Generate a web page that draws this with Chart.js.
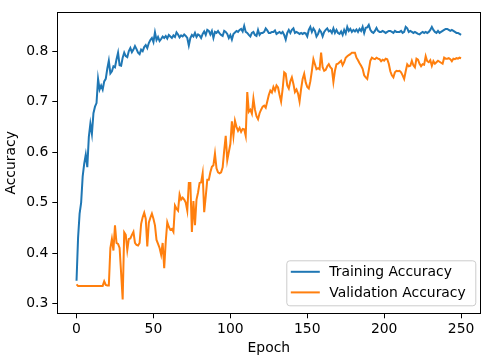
<!DOCTYPE html>
<html>
<head>
<meta charset="utf-8">
<script src="https://cdn.jsdelivr.net/npm/chart.js@4/dist/chart.umd.min.js"></script>
<style>
  html, body { margin: 0; padding: 0; background: #fff; }
  #wrap { width: 486px; height: 357px; }
</style>
</head>
<body>
<div id="wrap"><canvas id="accChart" width="486" height="357"></canvas></div>
<script>
// accuracy per epoch (epoch 0..250)
const trainAcc = [
  0.345, 0.430, 0.478, 0.500, 0.552, 0.577, 0.595, 0.570, 0.630, 0.656,
  0.636, 0.677, 0.690, 0.697, 0.745, 0.724, 0.732, 0.724, 0.740, 0.745,
  0.765, 0.781, 0.756, 0.760, 0.770, 0.768, 0.784, 0.797, 0.772, 0.771,
  0.787, 0.797, 0.790, 0.788, 0.800, 0.806, 0.798, 0.803, 0.810, 0.804,
  0.797, 0.794, 0.803, 0.800, 0.808, 0.812, 0.806, 0.816, 0.822, 0.826,
  0.818, 0.837, 0.822, 0.828, 0.820, 0.824, 0.829, 0.826, 0.830, 0.825,
  0.832, 0.829, 0.826, 0.831, 0.828, 0.837, 0.833, 0.827, 0.831, 0.829,
  0.833, 0.830, 0.826, 0.811, 0.826, 0.832, 0.829, 0.836, 0.828, 0.833,
  0.831, 0.826, 0.834, 0.839, 0.832, 0.842, 0.840, 0.833, 0.840, 0.826,
  0.838, 0.836, 0.840, 0.835, 0.832, 0.830, 0.840, 0.838, 0.834, 0.826,
  0.832, 0.823, 0.834, 0.837, 0.840, 0.838, 0.842, 0.844, 0.839, 0.850,
  0.838, 0.836, 0.832, 0.829, 0.836, 0.838, 0.832, 0.830, 0.842, 0.832,
  0.836, 0.836, 0.838, 0.845, 0.841, 0.836, 0.836, 0.838, 0.838, 0.841,
  0.834, 0.836, 0.838, 0.835, 0.838, 0.832, 0.823, 0.836, 0.842, 0.836,
  0.842, 0.845, 0.836, 0.838, 0.836, 0.834, 0.836, 0.834, 0.836, 0.835,
  0.829, 0.842, 0.848, 0.838, 0.845, 0.840, 0.829, 0.834, 0.842, 0.838,
  0.829, 0.838, 0.842, 0.845, 0.839, 0.841, 0.836, 0.845, 0.836, 0.842,
  0.836, 0.834, 0.839, 0.832, 0.842, 0.835, 0.848, 0.840, 0.844, 0.838,
  0.842, 0.839, 0.843, 0.838, 0.844, 0.840, 0.848, 0.836, 0.846, 0.847,
  0.852, 0.842, 0.838, 0.836, 0.840, 0.846, 0.840, 0.838, 0.838, 0.840,
  0.838, 0.836, 0.838, 0.840, 0.840, 0.838, 0.836, 0.840, 0.838, 0.838,
  0.838, 0.840, 0.836, 0.838, 0.848, 0.845, 0.838, 0.840, 0.838, 0.836,
  0.838, 0.836, 0.834, 0.833, 0.836, 0.838, 0.836, 0.838, 0.836, 0.838,
  0.842, 0.848, 0.842, 0.838, 0.836, 0.840, 0.836, 0.838, 0.840, 0.842,
  0.844, 0.844, 0.842, 0.840, 0.842, 0.840, 0.838, 0.836, 0.836, 0.834,
  0.832
];

const valAcc = [
  0.338, 0.335, 0.335, 0.335, 0.335, 0.335, 0.335, 0.335, 0.335, 0.335,
  0.335, 0.335, 0.335, 0.335, 0.335, 0.335, 0.335, 0.335, 0.344, 0.337,
  0.336, 0.336, 0.410, 0.428, 0.405, 0.455, 0.420, 0.418, 0.410, 0.360,
  0.308, 0.441, 0.436, 0.406, 0.428, 0.429, 0.436, 0.442, 0.420, 0.416,
  0.415, 0.420, 0.458, 0.471, 0.480, 0.468, 0.413, 0.460, 0.470, 0.478,
  0.468, 0.455, 0.426, 0.418, 0.410, 0.397, 0.420, 0.370, 0.423, 0.461,
  0.452, 0.446, 0.448, 0.442, 0.494, 0.488, 0.484, 0.516, 0.506, 0.510,
  0.506, 0.500, 0.484, 0.539, 0.539, 0.442, 0.503, 0.455, 0.506, 0.520,
  0.539, 0.540, 0.558, 0.481, 0.512, 0.545, 0.545, 0.560, 0.571, 0.574,
  0.597, 0.568, 0.560, 0.558, 0.560, 0.570, 0.603, 0.632, 0.584, 0.600,
  0.616, 0.661, 0.632, 0.662, 0.650, 0.642, 0.648, 0.640, 0.646, 0.645,
  0.632, 0.719, 0.680, 0.684, 0.676, 0.706, 0.684, 0.671, 0.665, 0.677,
  0.684, 0.690, 0.692, 0.688, 0.700, 0.713, 0.722, 0.718, 0.729, 0.722,
  0.732, 0.728, 0.713, 0.700, 0.725, 0.758, 0.755, 0.732, 0.726, 0.740,
  0.748, 0.735, 0.719, 0.724, 0.716, 0.700, 0.725, 0.745, 0.755, 0.738,
  0.729, 0.726, 0.740, 0.761, 0.784, 0.774, 0.764, 0.766, 0.764, 0.797,
  0.768, 0.761, 0.763, 0.770, 0.774, 0.768, 0.765, 0.739, 0.761, 0.774,
  0.775, 0.778, 0.781, 0.772, 0.778, 0.787, 0.790, 0.792, 0.794, 0.797,
  0.797, 0.797, 0.787, 0.782, 0.776, 0.771, 0.765, 0.752, 0.748, 0.745,
  0.762, 0.781, 0.787, 0.785, 0.784, 0.787, 0.785, 0.784, 0.780, 0.783,
  0.781, 0.785, 0.784, 0.775, 0.760, 0.752, 0.748, 0.758, 0.761, 0.760,
  0.761, 0.758, 0.752, 0.745, 0.760, 0.774, 0.770, 0.771, 0.781, 0.772,
  0.768, 0.785, 0.783, 0.775, 0.770, 0.774, 0.773, 0.790, 0.780, 0.778,
  0.782, 0.771, 0.780, 0.775, 0.778, 0.781, 0.779, 0.777, 0.775, 0.787,
  0.785, 0.785, 0.786, 0.784, 0.780, 0.785, 0.784, 0.786, 0.785, 0.787,
  0.786
];

const seriesLabels = ["Training Accuracy", "Validation Accuracy"];
const xTicks = [0, 50, 100, 150, 200, 250];
const yTicks = [0.3, 0.4, 0.5, 0.6, 0.7, 0.8];

const FONT = { family: "'DejaVu Sans', sans-serif", size: 13.9 };
const BLUE = "#1f77b4";
const ORANGE = "#ff7f0e";

// matplotlib-style box round the axes
const framePlugin = {
  id: "frame",
  afterDatasetsDraw(chart) {
    const { ctx, chartArea: a } = chart;
    ctx.save();
    ctx.strokeStyle = "#000";
    ctx.lineWidth = 1;
    ctx.strokeRect(Math.round(a.left) + 0.5, Math.round(a.top) + 0.5,
      Math.round(a.right - a.left), Math.round(a.bottom - a.top));
    ctx.restore();
  }
};

// legend box in the lower right corner, inside the axes
const innerLegend = {
  id: "innerLegend",
  afterDraw(chart) {
    const { ctx, chartArea: a } = chart;
    const w = 189, h = 45;
    const x = a.right - 5 - w, y = a.bottom - 8 - h;
    ctx.save();
    ctx.beginPath();
    ctx.roundRect(x + 0.5, y + 0.5, w, h, 3);
    ctx.fillStyle = "rgba(255,255,255,0.8)";
    ctx.fill();
    ctx.strokeStyle = "#cccccc";
    ctx.lineWidth = 1;
    ctx.stroke();
    ctx.font = FONT.size + "px " + FONT.family;
    ctx.textBaseline = "middle";
    chart.data.datasets.forEach((ds, i) => {
      const ly = y + 11.5 + i * 20.6;
      ctx.strokeStyle = ds.borderColor;
      ctx.lineWidth = 2;
      ctx.beginPath();
      ctx.moveTo(x + 4.5, ly);
      ctx.lineTo(x + 33.5, ly);
      ctx.stroke();
      ctx.fillStyle = "#000";
      ctx.fillText(ds.label, x + 43, ly + 0.5);
    });
    ctx.restore();
  }
};

function renderChart() {
  const ctx = document.getElementById("accChart").getContext("2d");
  new Chart(ctx, {
    type: "line",
    data: {
      datasets: [
        {
          label: seriesLabels[0],
          data: trainAcc.map((v, i) => ({ x: i, y: v })),
          borderColor: BLUE,
          backgroundColor: BLUE,
          borderWidth: 2,
          pointRadius: 0,
          order: 1
        },
        {
          label: seriesLabels[1],
          data: valAcc.map((v, i) => ({ x: i, y: v })),
          borderColor: ORANGE,
          backgroundColor: ORANGE,
          borderWidth: 2,
          pointRadius: 0,
          order: 0
        }
      ]
    },
    options: {
      responsive: false,
      animation: false,
      devicePixelRatio: 1,
      layout: { padding: { left: 0, right: 5.7, top: 5.3, bottom: 0 } },
      plugins: {
        legend: { display: false },
        tooltip: { enabled: false }
      },
      scales: {
        x: {
          type: "linear",
          min: -12.5,
          max: 262.5,
          afterBuildTicks: s => { s.ticks = xTicks.map(v => ({ value: v })); },
          afterFit: s => { s.height = 43.7; },
          ticks: { font: FONT, color: "#000", padding: 3, maxRotation: 0, autoSkip: false },
          grid: { drawOnChartArea: false, drawTicks: true, tickLength: 5, color: "#000" },
          border: { display: true, color: "#000" },
          title: { display: true, text: "Epoch", font: FONT, color: "#000", padding: { top: 0, bottom: 0 } }
        },
        y: {
          min: 0.2807,
          max: 0.8768,
          afterBuildTicks: s => { s.ticks = yTicks.map(v => ({ value: v })); },
          afterFit: s => { s.width = 57.3; },
          ticks: { font: FONT, color: "#000", padding: 4, autoSkip: false, callback: v => v.toFixed(1) },
          grid: { drawOnChartArea: false, drawTicks: true, tickLength: 5, color: "#000" },
          border: { display: true, color: "#000" },
          title: { display: true, text: "Accuracy", font: FONT, color: "#000", padding: { top: 3, bottom: 0 } }
        }
      }
    },
    plugins: [framePlugin, innerLegend]
  });
}

document.addEventListener("DOMContentLoaded", renderChart);
</script>
</body>
</html>
